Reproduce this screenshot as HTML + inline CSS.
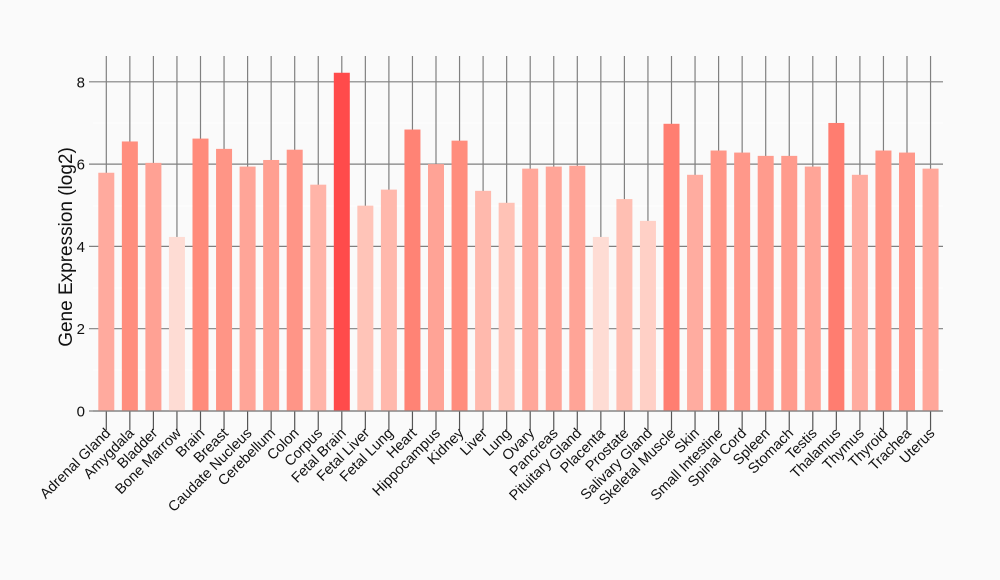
<!DOCTYPE html>
<html><head><meta charset="utf-8"><style>
html,body{margin:0;padding:0;background:#fafafa;}
svg{display:block;font-family:"Liberation Sans",sans-serif;}
</style></head><body>
<svg id="s" width="1000" height="580" xmlns="http://www.w3.org/2000/svg">
<rect width="1000" height="580" fill="#fafafa"/>
<line x1="93" x2="943" y1="123" y2="123" stroke="#ffffff" stroke-width="1"/>
<line x1="93" x2="943" y1="206" y2="206" stroke="#ffffff" stroke-width="1"/>
<line x1="93" x2="943" y1="288" y2="288" stroke="#ffffff" stroke-width="1"/>
<line x1="93" x2="943" y1="370" y2="370" stroke="#ffffff" stroke-width="1"/>
<g id="g"></g>
<text x="0" y="0" font-size="19" text-anchor="middle" transform="translate(72,247) rotate(-90)" fill="#111">Gene Expression (log2)</text>
</svg>
<script>
var names=["Adrenal Gland","Amygdala","Bladder","Bone Marrow","Brain","Breast","Caudate Nucleus","Cerebellum","Colon","Corpus","Fetal Brain","Fetal Liver","Fetal Lung","Heart","Hippocampus","Kidney","Liver","Lung","Ovary","Pancreas","Pituitary Gland","Placenta","Prostate","Salivary Gland","Skeletal Muscle","Skin","Small Intestine","Spinal Cord","Spleen","Stomach","Testis","Thalamus","Thymus","Thyroid","Trachea","Uterus"];
var vals=[5.79,6.55,6.03,4.23,6.62,6.37,5.94,6.1,6.35,5.5,8.22,4.99,5.38,6.84,6.0,6.57,5.35,5.06,5.89,5.94,5.96,4.23,5.15,4.62,6.98,5.74,6.33,6.28,6.2,6.2,5.94,7.0,5.74,6.33,6.28,5.89];
var stops=[[4.2,[254,221,213]],[5.0,[255,196,184]],[5.8,[255,170,158]],[6.6,[255,140,124]],[7.0,[255,125,112]],[8.2,[255,75,75]]];
function col(v){if(v<=stops[0][0])return stops[0][1];for(var i=1;i<stops.length;i++){if(v<=stops[i][0]){var a=stops[i-1],b=stops[i],t=(v-a[0])/(b[0]-a[0]);return a[1].map(function(c,k){return Math.round(c+(b[1][k]-c)*t);});}}return stops[stops.length-1][1];}
var y0=411,u=41.15,h='';
var s0=106.3,st=23.55;
for(var i=0;i<36;i++){var x=s0+i*st;h+='<line x1="'+x+'" x2="'+x+'" y1="56" y2="411" stroke="#808080" stroke-width="1.2"/>';}
for(var k=0;k<=8;k+=2){var y=y0-k*u;h+='<line x1="89" x2="943" y1="'+y+'" y2="'+y+'" stroke="#808080" stroke-width="1.2"/>';h+='<text x="85" y="'+(y+5.5)+'" font-size="15" text-anchor="end" fill="#111">'+k+'</text>';}
for(var i=0;i<36;i++){var x=s0+i*st,v=vals[i],c=col(v);h+='<rect x="'+(x-8)+'" y="'+(y0-v*u)+'" width="16" height="'+(v*u)+'" fill="rgb('+c.join(',')+')"/>';
h+='<line x1="'+x+'" x2="'+x+'" y1="411" y2="430" stroke="#555" stroke-width="1.2"/>';
h+='<text font-size="14.5" text-anchor="end" fill="#111" transform="translate('+(x+5)+',434) rotate(-45)">'+names[i]+'</text>';}
h+='<line x1="93" x2="943" y1="411" y2="411" stroke="#808080" stroke-width="1.2"/>';
document.getElementById('g').innerHTML=h;
</script>
</body></html>
